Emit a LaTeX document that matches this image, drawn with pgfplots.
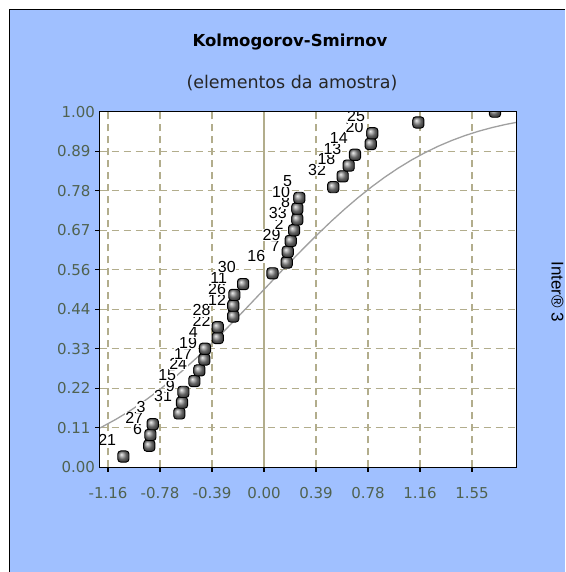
\documentclass[border=0pt]{standalone}
\usepackage{fontspec}
\setmainfont{DejaVu Sans}
\newfontfamily\labfont{Liberation Sans}
\usepackage{pgfplots}
\pgfplotsset{compat=1.18}
\usepackage{pgfplotstable}

\definecolor{panelblue}{RGB}{160,192,255}
\definecolor{gridkhaki}{RGB}{178,173,140}
\definecolor{ticktext}{RGB}{80,98,80}
\definecolor{cdfgray}{RGB}{160,160,160}

% sample elements: normal score (x), empirical CDF (y), element number
\pgfplotstableread{
x y lab
-1.048 0.0303 21
-0.855 0.0606 6
-0.847 0.0909 27
-0.829 0.1212 3
-0.631 0.1515 31
-0.611 0.1818 9
-0.601 0.2121 15
-0.519 0.2424 24
-0.482 0.2727 17
-0.445 0.3030 19
-0.440 0.3333 4
-0.345 0.3636 22
-0.345 0.3939 28
-0.229 0.4242 12
-0.229 0.4545 26
-0.221 0.4848 11
-0.156 0.5152 30
0.063 0.5455 16
0.169 0.5758 7
0.177 0.6061 29
0.199 0.6364 2
0.224 0.6667 33
0.248 0.6970 8
0.248 0.7273 10
0.263 0.7576 5
0.516 0.7879 32
0.586 0.8182 18
0.631 0.8485 13
0.678 0.8788 14
0.795 0.9091 20
0.807 0.9394 25
1.150 0.9697 1
1.721 1.0000 23
}\sampletable

% theoretical normal CDF
\pgfplotstableread{
x y
-1.226 0.1101
-1.2 0.1151
-1.1 0.1357
-1.0 0.1587
-0.9 0.1841
-0.8 0.2119
-0.7 0.2420
-0.6 0.2743
-0.5 0.3085
-0.4 0.3446
-0.3 0.3821
-0.2 0.4207
-0.1 0.4602
0.0 0.5000
0.1 0.5398
0.2 0.5793
0.3 0.6179
0.4 0.6554
0.5 0.6915
0.6 0.7257
0.7 0.7580
0.8 0.7881
0.9 0.8159
1.0 0.8413
1.1 0.8643
1.2 0.8849
1.3 0.9032
1.4 0.9192
1.5 0.9332
1.6 0.9452
1.7 0.9554
1.8 0.9641
1.883 0.9701
}\cdftable

\pgfdeclareplotmark{ksball}{%
  \path[draw=black, line width=0.9pt, ball color=black!45, rounded corners=3pt]
    (-5.6pt,-5.6pt) rectangle (5.6pt,5.6pt);}

\begin{document}
\begin{tikzpicture}
\useasboundingbox (0pt,0pt) rectangle (565pt,572pt);
\fill[white] (0pt,0pt) rectangle (565pt,572pt);
\fill[panelblue] (9.5pt,0pt) rectangle (565pt,562.5pt);
\draw[black, line width=1.5pt] (9.5pt,0pt) -- (9.5pt,562.5pt) -- (565pt,562.5pt);
\node[font=\bfseries\fontsize{16.5}{19}\selectfont] at (290pt,530pt) {Kolmogorov-Smirnov};
\node[font=\fontsize{17.5}{20}\selectfont, text=black!85] at (292pt,489pt) {(elementos da amostra)};
\node[rotate=-90, font=\labfont\fontsize{17}{20}\selectfont] at (557.5pt,280pt) {Inter® 3};
\coordinate (plotorigin) at (99.5pt,104.7pt);
\begin{axis}[
  name=ksaxis,
  at={(plotorigin)}, anchor=south west,
  scale only axis, width=417.2pt, height=355.6pt,
  xmin=-1.226, xmax=1.883, ymin=0, ymax=1,
  axis background/.style={fill=white},
  axis line style={black, line width=1.5pt},
  xtick={-1.1625,-0.775,-0.3875,0.3875,0.775,1.1625,1.55},
  xticklabels={-1.16,-0.78,-0.39,0.39,0.78,1.16,1.55},
  extra x ticks={0},
  extra x tick labels={0.00},
  extra x tick style={major grid style={gridkhaki, line width=1.3pt, solid}},
  ytick={0.1111,0.2222,0.3333,0.4444,0.5556,0.6667,0.7778,0.8889},
  yticklabels={0.11,0.22,0.33,0.44,0.56,0.67,0.78,0.89},
  extra y ticks={0,1},
  extra y tick labels={0.00,1.00},
  extra y tick style={major tick length=0pt, grid=none},
  xtick pos=bottom, ytick pos=left,
  tick align=outside, major tick length=4.5pt,
  tick style={black, line width=1.3pt},
  grid=major,
  major grid style={gridkhaki, line width=1.3pt, dash pattern=on 7pt off 5pt},
  ticklabel style={font=\fontsize{15}{15}\selectfont, text=ticktext},
  xticklabel style={yshift=-12pt},
  yticklabel style={xshift=-1pt},
  clip marker paths=true,
]
\addplot[cdfgray, line width=1.3pt, no marks] table[x=x, y=y] {\cdftable};
\addplot[only marks, mark=ksball,
  point meta=explicit symbolic,
  nodes near coords,
  every node near coord/.append style={anchor=south east, xshift=-6.5pt, yshift=10.5pt,
    fill=white, inner sep=0.6pt, text=black, font=\labfont\fontsize{16}{16}\selectfont},
] table[x=x, y=y, meta=lab] {\sampletable};
\end{axis}
% frame redrawn above the point labels
\draw[black, line width=1.5pt] (ksaxis.south west) rectangle (ksaxis.north east);
\end{tikzpicture}
\end{document}
